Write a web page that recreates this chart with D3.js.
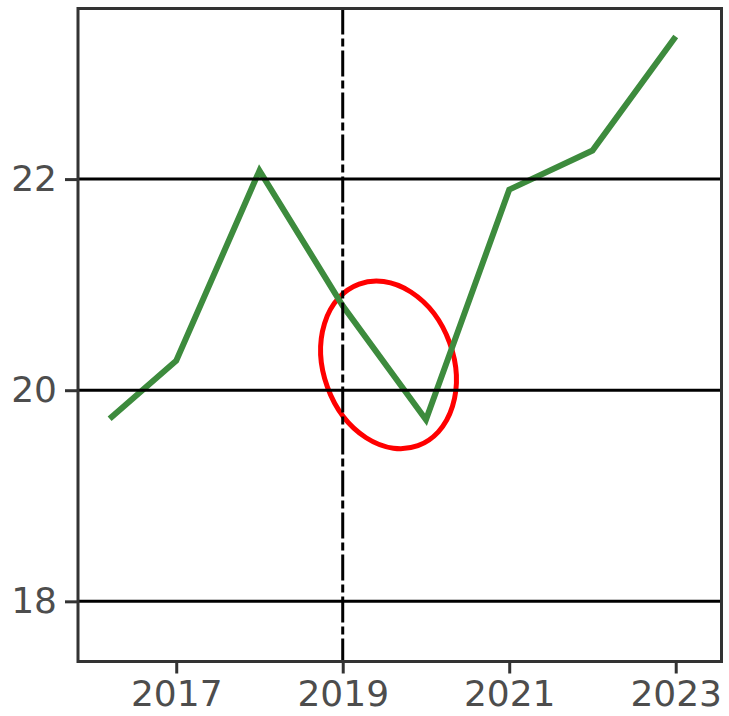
<!DOCTYPE html>
<html>
<head>
<meta charset="utf-8">
<script src="https://cdn.jsdelivr.net/npm/d3@7"></script>
<style>
  body { margin: 0; background: #fff; }
  .tick text { font-family: "DejaVu Sans", sans-serif; font-size: 36px; fill: #4d4d4d; }
</style>
</head>
<body>
<div id="chart"></div>
<script>
// values
const years = [2016.2, 2017, 2018, 2019, 2020, 2021, 2022, 2023];
const values = [19.73, 20.28, 22.08, 20.8, 19.72, 21.9, 22.27, 23.35];
const xTicks = [2017, 2019, 2021, 2023];
const yTicks = [18, 20, 22];
const markYear = 2019;
// circled region (centre in data units)
const circleAt = [2019.55, 20.24];

const W = 729, H = 716;
const margin = {top: 8.5, right: 7.5, bottom: 54.5, left: 78};

let svg = d3.select("#chart").append("svg")
    .attr("width", W)
    .attr("height", H);

let x = d3.scaleLinear()
    .domain([2015.82, 2023.55])
    .range([margin.left, W - margin.right]);

let y = d3.scaleLinear()
    .domain([17.43, 23.616])
    .range([H - margin.bottom, margin.top]);

//the red ellipse
svg.append("ellipse")
    .attr("cx", 0).attr("cy", 0)
    .attr("rx", 65).attr("ry", 86)
    .attr("transform", `translate(${x(circleAt[0])},${y(circleAt[1])}) rotate(-20)`)
    .attr("fill", "none")
    .attr("stroke", "#ff0000")
    .attr("stroke-width", 5);

//green line
let line = d3.line()
    .x((d, i) => x(years[i]))
    .y(d => y(d));

svg.append("path")
    .datum(values)
    .attr("d", line)
    .attr("fill", "none")
    .attr("stroke", "#3d8b3d")
    .attr("stroke-width", 6)
    .attr("stroke-linejoin", "miter");

//horizontal grid lines
svg.selectAll(".grid")
    .data(yTicks)
    .enter()
    .append("line")
    .attr("class", "grid")
    .attr("x1", margin.left + 1)
    .attr("x2", W - margin.right)
    .attr("y1", d => y(d))
    .attr("y2", d => y(d))
    .attr("stroke", "#000")
    .attr("stroke-width", 3);

//vertical dash-dot line
svg.append("line")
    .attr("x1", x(markYear)).attr("x2", x(markYear))
    .attr("y1", margin.top).attr("y2", H - margin.bottom)
    .attr("stroke", "#000")
    .attr("stroke-width", 3)
    .attr("stroke-dasharray", "26,4,8,4");

//frame
svg.append("rect")
    .attr("x", margin.left)
    .attr("y", margin.top)
    .attr("width", W - margin.left - margin.right)
    .attr("height", H - margin.top - margin.bottom)
    .attr("fill", "none")
    .attr("stroke", "#333")
    .attr("stroke-width", 3);

//axes
let xAxis = svg.append("g")
    .attr("transform", `translate(0,${H - margin.bottom})`)
    .call(d3.axisBottom(x).tickValues(xTicks).tickFormat(d3.format("d"))
        .tickSize(12).tickPadding(7));

let yAxis = svg.append("g")
    .attr("transform", `translate(${margin.left},0)`)
    .call(d3.axisLeft(y).tickValues(yTicks).tickFormat(d3.format("d"))
        .tickSize(13).tickPadding(8));

[xAxis, yAxis].forEach(g => {
    g.select(".domain").remove();
    g.selectAll(".tick line").attr("stroke", "#333").attr("stroke-width", 3);
    g.attr("font-family", null).attr("font-size", null);
});
</script>
</body>
</html>
